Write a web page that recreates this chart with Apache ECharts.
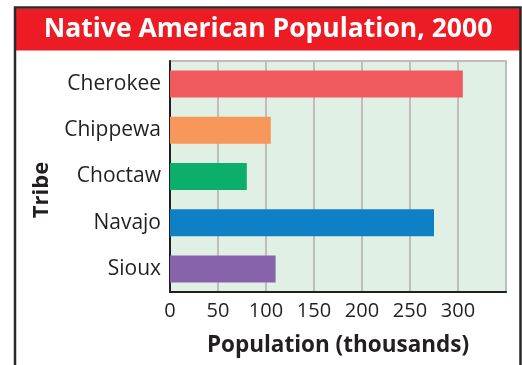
<!DOCTYPE html>
<html>
<head>
<meta charset="utf-8">
<script src="https://cdn.jsdelivr.net/npm/echarts@6/dist/echarts.min.js"></script>
<style>
  html, body { margin: 0; padding: 0; background: #ffffff; }
  #chart { width: 522px; height: 365px; }
</style>
</head>
<body>
<div id="chart"></div>
<script>
// Tribes, top to bottom
const tribes = ['Cherokee', 'Chippewa', 'Choctaw', 'Navajo', 'Sioux'];
// Population in thousands
const population = [305, 105, 80, 275, 110];
// One fill per tribe
const barColors = ['#F05A5E', '#F7985A', '#0BAE6A', '#0D80C6', '#8663AB'];
// Ticks shown along the population axis
const xTicks = [0, 50, 100, 150, 200, 250, 300];

const titleText = 'Native American Population, 2000';
const xName = 'Population (thousands)';
const yName = 'Tribe';

const FONT = '"Open Sans", "DejaVu Sans", sans-serif';
const INK = '#231F20';

const chart = echarts.init(document.getElementById('chart'), null, { renderer: 'canvas' });

chart.setOption({
  animation: false,
  backgroundColor: '#ffffff',
  textStyle: { fontFamily: FONT },
  graphic: [
    // red title band
    {
      type: 'rect', z: 1,
      shape: { x: 16, y: 8.5, width: 504, height: 42 },
      style: { fill: '#ED1C24' }
    },
    {
      type: 'text', z: 2,
      x: 268, y: 29,
      style: {
        text: titleText, fill: '#ffffff',
        font: 'bold 26.5px ' + FONT,
        align: 'center', verticalAlign: 'middle'
      }
    },
    // outer frame
    {
      type: 'polyline', z: 3,
      shape: { points: [[15, 366], [15, 7.5], [520.5, 7.5], [520.5, 366]] },
      style: { stroke: '#2A2A2A', lineWidth: 2.5, fill: null }
    },
    // vertical axis title
    {
      type: 'text', z: 2,
      x: 42, y: 190, rotation: Math.PI / 2,
      style: {
        text: yName, fill: INK,
        font: 'bold 22px ' + FONT,
        align: 'center', verticalAlign: 'middle'
      }
    }
  ],
  grid: {
    left: 170, top: 61, right: 16, bottom: 73,
    show: true,
    backgroundColor: '#E0F0E5',
    borderColor: '#BDBDBD',
    borderWidth: 2
  },
  xAxis: {
    type: 'value',
    min: 0, max: 350, interval: 50,
    name: xName,
    nameLocation: 'middle',
    nameGap: 42,
    nameTextStyle: { fontFamily: FONT, fontSize: 22.5, fontWeight: 'bold', color: INK },
    axisLine: { show: true, lineStyle: { color: INK, width: 2 } },
    axisTick: { show: false },
    axisLabel: {
      margin: 9, fontFamily: FONT, fontSize: 20, color: INK,
      formatter: v => (xTicks.indexOf(v) >= 0 ? String(v) : '')
    },
    splitLine: { show: true, lineStyle: { color: '#BDBDBD', width: 2 } }
  },
  yAxis: {
    type: 'category',
    data: tribes,
    inverse: true,
    axisLine: { show: true, lineStyle: { color: INK, width: 2 } },
    axisTick: { show: false },
    axisLabel: { margin: 9, fontFamily: FONT, fontSize: 21, color: INK },
    splitLine: { show: false }
  },
  series: [{
    type: 'bar',
    data: population.map((v, i) => ({ value: v, itemStyle: { color: barColors[i] } })),
    barWidth: 27,
    z: 3
  }]
});
</script>
</body>
</html>
